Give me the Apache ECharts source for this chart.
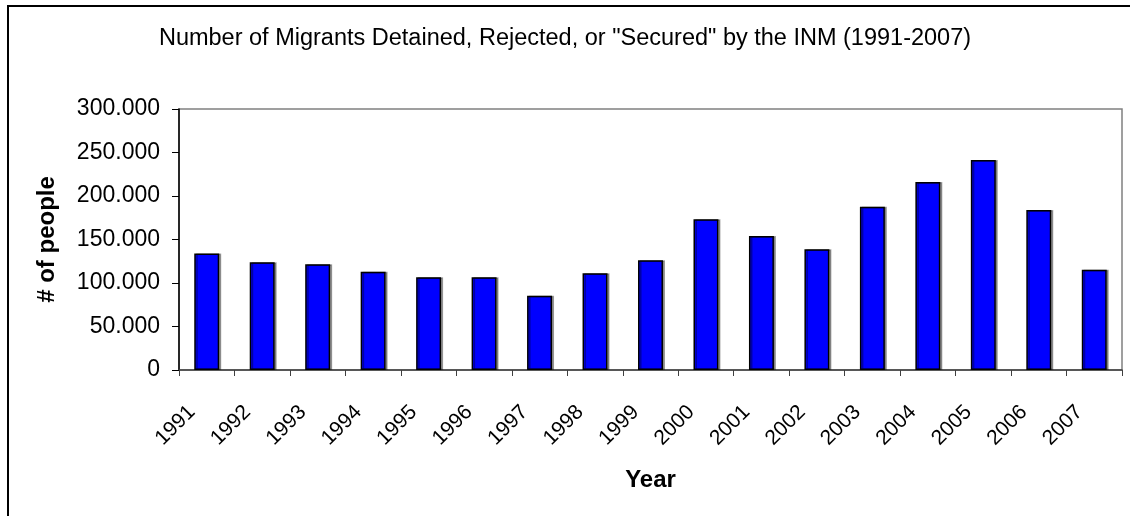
<!DOCTYPE html>
<html>
<head>
<meta charset="utf-8">
<script src="https://cdn.jsdelivr.net/npm/echarts@6/dist/echarts.min.js"></script>
<style>
html,body{margin:0;padding:0;background:#fff;}
#c{width:1130px;height:516px;}
</style>
</head>
<body>
<div id="c"></div>
<script>
const titleText = 'Number of Migrants Detained, Rejected, or "Secured" by the INM (1991-2007)';
const years = ['1991','1992','1993','1994','1995','1996','1997','1998','1999','2000','2001','2002','2003','2004','2005','2006','2007'];
const migrants = [134000,123800,121500,113000,106500,106500,85400,111100,126100,173200,154000,138700,187700,216100,241400,183900,115300];
const yTicks = [0,50000,100000,150000,200000,250000,300000];

const font = '"Liberation Sans", Arial, sans-serif';
function fmt(v){ return v === 0 ? '0' : String(v).replace(/\B(?=(\d{3})+(?!\d))/g, '.'); }

const chart = echarts.init(document.getElementById('c'), null, {renderer:'canvas'});
chart.setOption({
  animation:false,
  backgroundColor:'#fff',
  graphic:[
    {type:'rect', shape:{x:8,y:6,width:1140,height:530}, style:{fill:'none', stroke:'#000', lineWidth:2}, z:-1},
    {type:'text', left:'center', top:27, style:{text:titleText, font:'23.5px ' + font, fill:'#000'}}
  ],
  grid:{left:179, right:8, top:109, bottom:146, show:true, borderColor:'#808080', borderWidth:1.5},
  xAxis:{
    type:'category', data:years,
    name:'Year', nameLocation:'middle', nameGap:98,
    nameTextStyle:{fontFamily:font, fontSize:24, fontWeight:'bold', color:'#000'},
    axisLine:{lineStyle:{color:'#404040', width:1.5}},
    axisTick:{show:true, length:6, lineStyle:{color:'#404040'}},
    axisLabel:{rotate:45, fontFamily:font, fontSize:21, color:'#000', margin:24, padding:[0,21,0,0], interval:0}
  },
  yAxis:{
    type:'value', min:0, max:300000, interval:50000,
    name:'# of people', nameLocation:'middle', nameGap:120,
    nameTextStyle:{fontFamily:font, fontSize:24, fontWeight:'bold', color:'#000'},
    axisLine:{show:true, lineStyle:{color:'#000', width:1.5}},
    axisTick:{show:true, inside:false, length:7, lineStyle:{color:'#000'}},
    splitLine:{show:false},
    axisLabel:{fontFamily:font, fontSize:23, color:'#000', margin:19, formatter:fmt}
  },
  series:[{
    type:'bar', data:migrants, barWidth:'45%',
    itemStyle:{color:'#0000FF', borderColor:'#000', borderWidth:1.5,
      shadowColor:'rgba(0,0,0,0.35)', shadowOffsetX:2, shadowOffsetY:0, shadowBlur:0}
  }]
});
</script>
</body>
</html>
